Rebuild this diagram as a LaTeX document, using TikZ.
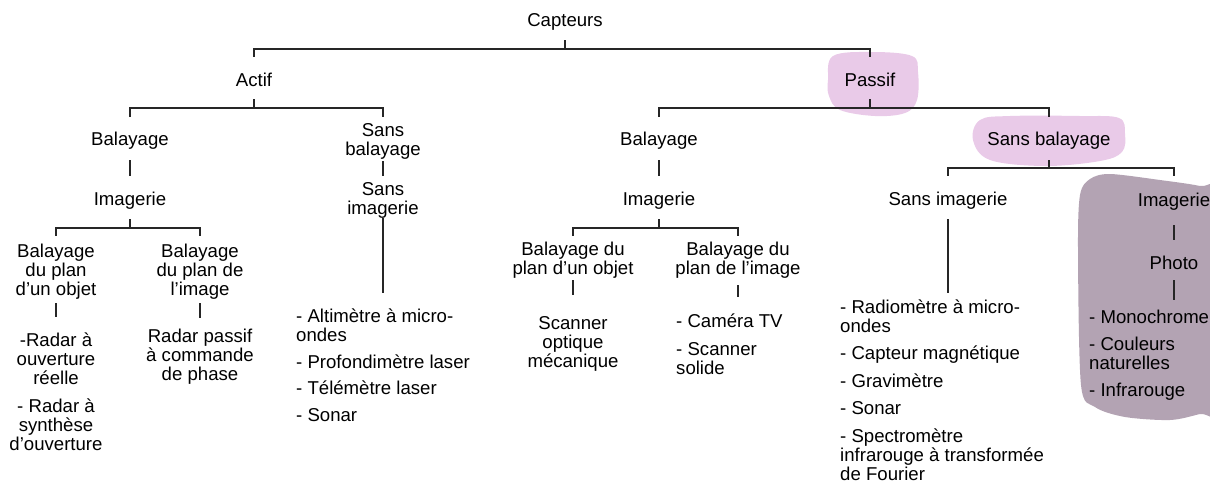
\documentclass[tikz,border=0pt]{standalone}
\usepackage{fontspec}
\setmainfont{Liberation Sans}
\definecolor{pinkblob}{RGB}{233,202,232}
\definecolor{greyblob}{RGB}{179,163,179}
\begin{document}
\begin{tikzpicture}[x=1pt,y=-1pt,
                    lbl/.style={inner sep=0pt,anchor=base,align=center,font=\fontsize{18.6}{19}\selectfont},
                    lst/.style={inner sep=0pt,anchor=base west,align=left,font=\fontsize{18.6}{19}\selectfont},
                    link/.style={line width=1.1pt,black!85}]
                      \clip (0,0) rectangle (1210,483);
                      \fill [pinkblob] plot [smooth cycle,tension=0.6] coordinates {(828,80) (833,56) (872,52) (912,56) (918,72) (917,100) (905,113) (875,116) (840,110) (829,96)};
                      \fill [pinkblob] plot [smooth cycle,tension=0.6] coordinates {(973,140) (980,120) (1010,116) (1080,116) (1119,118) (1125,134) (1122,152) (1100,161) (1045,166) (990,160)};
                      \fill [greyblob] plot [smooth cycle,tension=0.5] coordinates {(1078,250) (1080,195) (1090,179) (1110,174) (1160,180) (1200,186) (1235,196) (1235,405) (1200,414) (1170,420) (1125,417) (1095,407) (1081,385)};
                      \node [lbl] (cap) at (565,26) {Capteurs};
                      \node [lbl] (act) at (254,86) {Actif};
                      \node [lbl] (pas) at (870,86) {Passif};
                      \node [lbl] (balL) at (130,145) {Balayage};
                      \node [lbl] (imgL) at (130,205) {Imagerie};
                      \node [lbl] (sbL) at (383,155) {Sans\\balayage};
                      \node [lbl] (siL) at (383,214) {Sans\\imagerie};
                      \node [lbl] (boL) at (56,295) {Balayage\\du plan\\d’un objet};
                      \node [lbl] (biL) at (200,295) {Balayage\\du plan de\\l’image};
                      \node [lbl] (raL) at (56,450) {-Radar à\\ouverture\\réelle\\[9pt]- Radar à\\synthèse\\d’ouverture};
                      \node [lbl] (rpL) at (200,380) {Radar passif\\à commande\\de phase};
                      \node [lst] (aLst) at (296,421) {- Altimètre à micro-\\ondes\\[7.5pt]- Profondimètre laser\\[7.5pt]- Télémètre laser\\[7.5pt]- Sonar};
                      \node [lbl] (balP) at (659,145) {Balayage};
                      \node [lbl] (imgP) at (659,205) {Imagerie};
                      \node [lbl] (boP) at (573,274) {Balayage du\\plan d’un objet};
                      \node [lbl] (biP) at (738,274) {Balayage du\\plan de l’image};
                      \node [lbl] (scP) at (573,367) {Scanner\\optique\\mécanique};
                      \node [lst] (camP) at (676,374) {- Caméra TV\\[9pt]- Scanner\\solide};
                      \node [lbl] (sbP) at (1049,145) {Sans balayage};
                      \node [lbl] (siP) at (948,205) {Sans imagerie};
                      \node [lst] (pLst) at (840,480) {- Radiomètre à micro-\\ondes\\[8.5pt]- Capteur magnétique\\[8.5pt]- Gravimètre\\[8.5pt]- Sonar\\[8.5pt]- Spectromètre\\infrarouge à transformée\\de Fourier};
                      \node [lbl] (imgR) at (1174,206) {Imagerie};
                      \node [lbl] (pho) at (1174,269) {Photo};
                      \node [lst] (phLst) at (1089,396) {- Monochrome\\[8pt]- Couleurs\\naturelles\\[8pt]- Infrarouge};
                      \draw [link] (cap |- 0,40) -- (cap |- 0,49) -| (act |- 0,57);
                      \draw [link] (cap |- 0,49) -| (pas |- 0,57);
                      \draw [link] (act |- 0,99) -- (act |- 0,108) -| (balL |- 0,117);
                      \draw [link] (act |- 0,108) -| (sbL |- 0,117);
                      \draw [link] (balL |- 0,160) -- (imgL |- 0,176);
                      \draw [link] (imgL |- 0,219) -- (imgL |- 0,228) -| (boL |- 0,236);
                      \draw [link] (imgL |- 0,228) -| (biL |- 0,236);
                      \draw [link] (boL |- 0,303) -- (raL |- 0,317);
                      \draw [link] (biL |- 0,303) -- (rpL |- 0,318);
                      \draw [link] (sbL |- 0,161) -- (siL |- 0,176);
                      \draw [link] (siL |- 0,218) -- (siL |- 0,293);
                      \draw [link] (pas |- 0,99) -- (pas |- 0,108) -| (balP |- 0,117);
                      \draw [link] (pas |- 0,108) -| (sbP |- 0,117);
                      \draw [link] (balP |- 0,160) -- (imgP |- 0,176);
                      \draw [link] (imgP |- 0,219) -- (imgP |- 0,228) -| (boP |- 0,236);
                      \draw [link] (imgP |- 0,228) -| (biP |- 0,236);
                      \draw [link] (boP |- 0,280) -- (scP |- 0,295);
                      \draw [link] (biP |- 0,285) -- (biP |- 0,297);
                      \draw [link] (sbP |- 0,160) -- (sbP |- 0,168) -| (siP |- 0,176);
                      \draw [link] (sbP |- 0,168) -| (imgR |- 0,176);
                      \draw [link] (siP |- 0,219) -- (siP |- 0,293);
                      \draw [link] (imgR |- 0,225) -- (pho |- 0,240);
                      \draw [link] (pho |- 0,280) -- (pho |- 0,300);
                  \end{tikzpicture}
\end{document}
